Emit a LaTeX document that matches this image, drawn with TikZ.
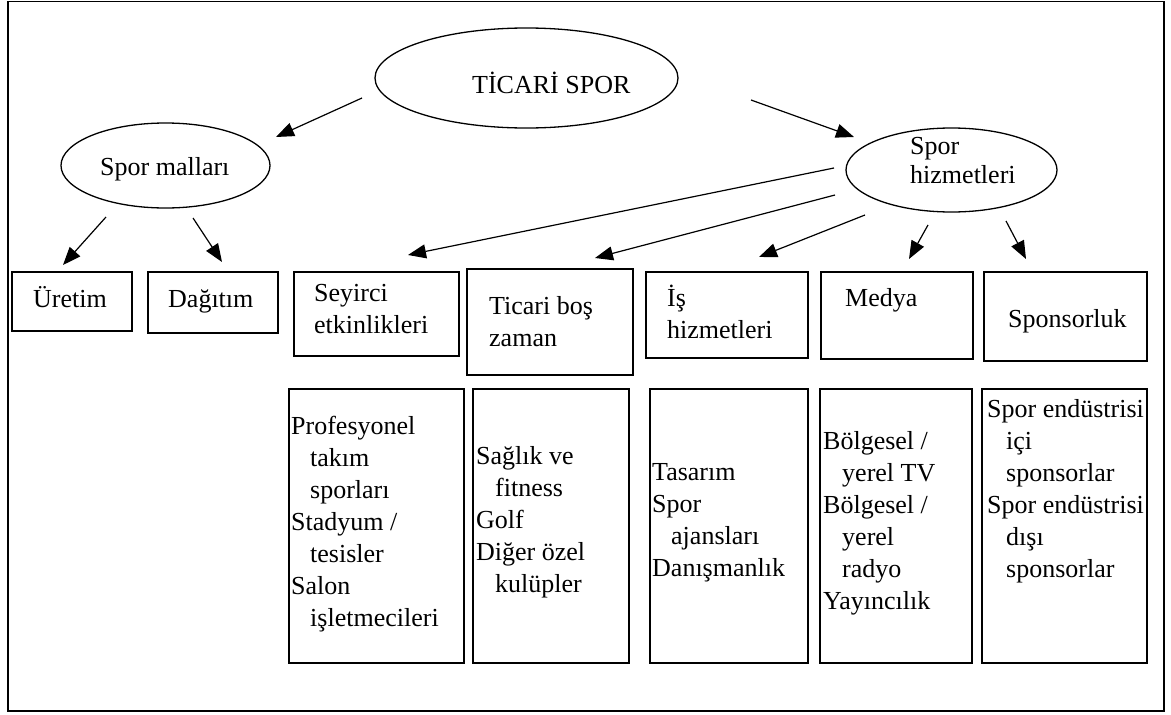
\documentclass[tikz,border=0pt]{standalone}
\usepackage{fontspec}
\setmainfont{Liberation Serif}
\usetikzlibrary{shapes.geometric,arrows.meta,fit}

\newcommand{\girinti}{\hspace*{19pt}}

\tikzset{
  oval/.style={draw, ellipse, line width=1.3pt, inner sep=0pt},
  kutu/.style={draw, rectangle, line width=1.6pt, inner sep=0pt},
  yazi/.style={anchor=north west, inner sep=0pt, align=left,
    execute at begin node={\rule{0pt}{24pt}}},
  ok/.style={line width=1.2pt, -{Triangle[length=18pt,width=14pt]}}
}

\begin{document}
\begin{tikzpicture}[x=1pt, y=-1pt, font=\fontsize{26}{32}\selectfont]
\useasboundingbox (0,0) rectangle (1171,715);
% frame
\draw[line width=1.4pt] (8,1.5) rectangle (1164,711);

% ellipses
\node[oval, minimum width=303pt, minimum height=100pt] (ticari) at (526.5,78) {};
\node[yazi] (ticari-t) at (472,69) {TİCARİ SPOR};
\node[oval, minimum width=209pt, minimum height=85pt] (mallar) at (165.5,165.5) {};
\node[yazi] (mallar-t) at (100,151) {Spor malları};
\node[oval, minimum width=211pt, minimum height=84pt] (hizmet) at (951.5,170) {};
\node[yazi, font=\fontsize{26}{29}\selectfont] (hizmet-t) at (910,137) {Spor\\hizmetleri};

% upper boxes
\node[kutu, fit={(12,272) (132,331)}] (uretim) {};
\node[yazi] (uretim-t) at (33,283) {Üretim};
\node[kutu, fit={(148,272) (278,333)}] (dagitim) {};
\node[yazi] (dagitim-t) at (168,283) {Dağıtım};
\node[kutu, fit={(294,272) (459,356)}] (seyirci) {};
\node[yazi] (seyirci-t) at (314,284) {Seyirci\\etkinlikleri};
\node[kutu, fit={(467,269) (633,375)}] (bos) {};
\node[yazi] (bos-t) at (489,296) {Ticari boş\\zaman};
\node[kutu, fit={(646,272) (808,358)}] (is) {};
\node[yazi] (is-t) at (667,285) {İş\\hizmetleri};
\node[kutu, fit={(821,272) (973,359)}] (medya) {};
\node[yazi] (medya-t) at (845,282) {Medya};
\node[kutu, fit={(984,272) (1147,361)}] (sponsor) {};
\node[yazi] (sponsor-t) at (1008,303) {Sponsorluk};

% lower boxes
\node[kutu, fit={(289,389) (464,663)}] (seyirci-alt) {};
\node[yazi] (seyirci-l) at (291,416) {Profesyonel\\\girinti takım\\\girinti sporları\\Stadyum /\\\girinti tesisler\\Salon\\\girinti işletmecileri};
\node[kutu, fit={(473,389) (629,663)}] (bos-alt) {};
\node[yazi] (bos-l) at (476,446) {Sağlık ve\\\girinti fitness\\Golf\\Diğer özel\\\girinti kulüpler};
\node[kutu, fit={(650,389) (808,663)}] (is-alt) {};
\node[yazi] (is-l) at (652,463) {Tasarım\\Spor\\\girinti ajansları\\Danışmanlık};
\node[kutu, fit={(820,389) (972,663)}] (medya-alt) {};
\node[yazi] (medya-l) at (823,431) {Bölgesel /\\\girinti yerel TV\\Bölgesel /\\\girinti yerel\\\girinti radyo\\Yayıncılık};
\node[kutu, fit={(982,389) (1147,663)}] (sponsor-alt) {};
\node[yazi] (sponsor-l) at (987,399) {Spor endüstrisi\\\girinti içi\\\girinti sponsorlar\\Spor endüstrisi\\\girinti dışı\\\girinti sponsorlar};

% arrow ends
\coordinate (t1) at (362,98);   \coordinate (m1) at (276,137);
\coordinate (t2) at (751,100);  \coordinate (h1) at (854,137);
\coordinate (m2) at (106,217);  \coordinate (u1) at (63,265);
\coordinate (m3) at (193,218);  \coordinate (d1) at (222,262);
\coordinate (h2) at (834,168);  \coordinate (s1) at (408,255);
\coordinate (h3) at (835,195);  \coordinate (b1) at (595,258);
\coordinate (h4) at (865,215);  \coordinate (i1) at (759,257);
\coordinate (h5) at (928,225);  \coordinate (e1) at (909,259);
\coordinate (h6) at (1006,221); \coordinate (p1) at (1026,259);

% arrows
\draw[ok] (t1) -- (m1);
\draw[ok] (t2) -- (h1);
\draw[ok] (m2) -- (u1);
\draw[ok] (m3) -- (d1);
\draw[ok] (h2) -- (s1);
\draw[ok] (h3) -- (b1);
\draw[ok] (h4) -- (i1);
\draw[ok] (h5) -- (e1);
\draw[ok] (h6) -- (p1);
\end{tikzpicture}
\end{document}
